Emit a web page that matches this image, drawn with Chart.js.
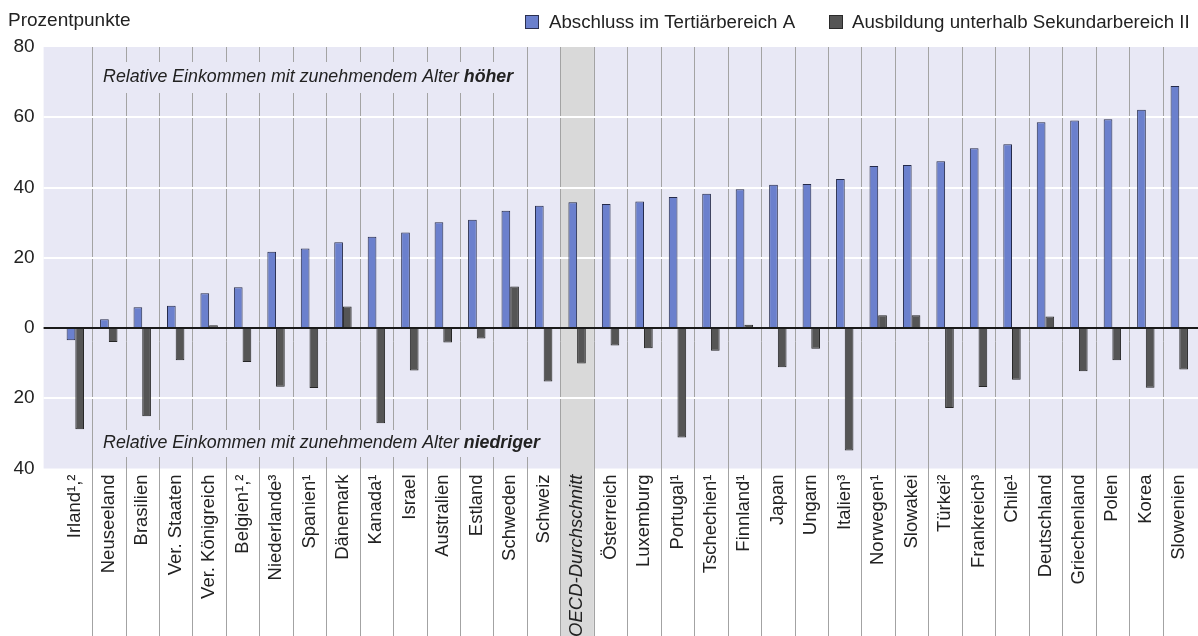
<!DOCTYPE html>
<html>
<head>
<meta charset="utf-8">
<script src="https://cdn.jsdelivr.net/npm/chart.js@4.4.1/dist/chart.umd.min.js"></script>
<style>
  html, body { margin: 0; padding: 0; background: #fff; }
  #grafik { display: block; }
</style>
</head>
<body>
<canvas id="grafik" width="1198" height="636"></canvas>
<script>
// Länder in der Reihenfolge des Originals
const laender = [
  "Irland¹,²", "Neuseeland", "Brasilien", "Ver. Staaten", "Ver. Königreich", "Belgien¹,²",
  "Niederlande³", "Spanien¹", "Dänemark", "Kanada¹", "Israel", "Australien", "Estland",
  "Schweden", "Schweiz", "OECD-Durchschnitt", "Österreich", "Luxemburg", "Portugal¹",
  "Tschechien¹", "Finnland¹", "Japan", "Ungarn", "Italien³", "Norwegen¹", "Slowakei",
  "Türkei²", "Frankreich³", "Chile¹", "Deutschland", "Griechenland", "Polen", "Korea", "Slowenien"
];
const tertiaer = [
  -3.5, 2.5, 5.9, 6.3, 9.9, 11.6, 21.7, 22.6, 24.4, 26.0, 27.2, 30.1, 30.8, 33.4, 34.8,
  35.8, 35.3, 36.0, 37.3, 38.2, 39.5, 40.8, 41.0, 42.4, 46.1, 46.4, 47.5, 51.2, 52.3,
  58.6, 59.1, 59.4, 62.1, 68.9
];
const unterSek = [
  -28.8, -4.0, -25.1, -9.2, 0.8, -9.7, -16.7, -17.1, 6.1, -27.1, -12.1, -4.1, -3.0, 11.8, -15.2,
  -10.1, -5.0, -5.8, -31.2, -6.5, 0.9, -11.2, -5.9, -34.9, 3.6, 3.6, -22.8, -16.8, -14.7,
  3.3, -12.3, -9.2, -17.0, -11.8
];
const yTicks = [80, 60, 40, 20, 0, -20, -40];
const serienNamen = ["Abschluss im Tertiärbereich A", "Ausbildung unterhalb Sekundarbereich II"];
const einheit = "Prozentpunkte";
const hinweisOben = ["Relative Einkommen mit zunehmendem Alter ", "höher"];
const hinweisUnten = ["Relative Einkommen mit zunehmendem Alter ", "niedriger"];

const schrift = "'Liberation Sans', Arial, sans-serif";
const farbeBlau = "#6b80cd";
const farbeGrau = "#555555";
const oecdIndex = laender.indexOf("OECD-Durchschnitt");

function hinweis(ctx, teile, x, y, farbeHg, y0, y1) {
  ctx.font = "italic 17.8px " + schrift;
  const b1 = ctx.measureText(teile[0]).width;
  ctx.font = "italic bold 17.8px " + schrift;
  const b2 = ctx.measureText(teile[1]).width;
  ctx.fillStyle = farbeHg;
  ctx.fillRect(x - 7, y0, b1 + b2 + 14, y1 - y0);
  ctx.fillStyle = "#222";
  ctx.textBaseline = "middle";
  ctx.textAlign = "left";
  ctx.font = "italic 17.8px " + schrift;
  ctx.fillText(teile[0], x, y);
  ctx.font = "italic bold 17.8px " + schrift;
  ctx.fillText(teile[1], x + b1, y);
}

const hintergrund = {
  id: "hintergrund",
  beforeDraw(chart) {
    const { ctx, chartArea: a, scales: { x, y } } = chart;
    const links = a.left - 15, rechts = chart.width;
    const breite = x.getPixelForValue(1) - x.getPixelForValue(0);
    ctx.save();
    ctx.fillStyle = "#e8e8f5";
    ctx.fillRect(links, a.top, rechts - links, a.bottom - a.top);

    // OECD-Spalte grau hinterlegt
    const xm = x.getPixelForValue(oecdIndex);
    ctx.fillStyle = "#d9d9d9";
    ctx.fillRect(xm - breite / 2, a.top, breite, chart.height - a.top);

    // Trennlinien zwischen den Ländern
    ctx.strokeStyle = "#a3a3a3";
    ctx.lineWidth = 1;
    for (let i = 0; i < laender.length - 1; i++) {
      const xs = Math.round(x.getPixelForValue(i) + breite / 2) + 0.5;
      ctx.beginPath();
      ctx.moveTo(xs, a.top);
      ctx.lineTo(xs, chart.height);
      ctx.stroke();
    }

    // weiße Gitterlinien
    ctx.strokeStyle = "#ffffff";
    ctx.lineWidth = 2;
    yTicks.forEach(v => {
      if (v === 0 || v === yTicks[0] || v === yTicks[yTicks.length - 1]) return;
      const yy = Math.round(y.getPixelForValue(v));
      ctx.beginPath();
      ctx.moveTo(links, yy);
      ctx.lineTo(rechts, yy);
      ctx.stroke();
    });

    const xText = x.getPixelForValue(0) + breite / 2 + 11;
    hinweis(ctx, hinweisOben, xText, 77, "#e8e8f5", 62, 93);
    hinweis(ctx, hinweisUnten, xText, 443, "#e8e8f5", 430, 457);

    // Einheit und Legende
    ctx.fillStyle = "#222";
    ctx.textBaseline = "middle";
    ctx.textAlign = "left";
    ctx.font = "19px " + schrift;
    ctx.fillText(einheit, 8, 21);

    ctx.font = "18.7px " + schrift;
    const legPos = [[525, 549], [829, 852]];
    const legFarben = [[farbeBlau, "#2b3050"], [farbeGrau, "#2a2a2a"]];
    serienNamen.forEach((n, i) => {
      ctx.fillStyle = legFarben[i][0];
      ctx.fillRect(legPos[i][0], 15, 14, 14);
      ctx.strokeStyle = legFarben[i][1];
      ctx.lineWidth = 1;
      ctx.strokeRect(legPos[i][0] + 0.5, 15.5, 13, 13);
      ctx.fillStyle = "#222";
      ctx.fillText(n, legPos[i][1], 23);
    });
    ctx.restore();
  },
  afterDatasetsDraw(chart) {
    const { ctx, chartArea: a, scales: { y } } = chart;
    const y0 = Math.round(y.getPixelForValue(0));
    ctx.save();
    ctx.strokeStyle = "#1a1a1a";
    ctx.lineWidth = 2;
    ctx.beginPath();
    ctx.moveTo(a.left - 15, y0);
    ctx.lineTo(chart.width, y0);
    ctx.stroke();
    ctx.restore();
  }
};

const grafik = new Chart(document.getElementById("grafik").getContext("2d"), {
  type: "bar",
  data: {
    labels: laender,
    datasets: [
      {
        label: serienNamen[0],
        data: tertiaer,
        backgroundColor: farbeBlau,
        borderColor: "#242a4a",
        borderWidth: 1,
        borderSkipped: false,
        categoryPercentage: 0.52,
        barPercentage: 1.0,
      },
      {
        label: serienNamen[1],
        data: unterSek,
        backgroundColor: farbeGrau,
        borderColor: "#262626",
        borderWidth: 1,
        borderSkipped: false,
        categoryPercentage: 0.52,
        barPercentage: 1.0,
      },
    ],
  },
  options: {
    responsive: false,
    animation: false,
    devicePixelRatio: 1,
    layout: { padding: { top: 47, right: 2, left: 0, bottom: 0 } },
    plugins: {
      legend: { display: false },
      tooltip: { enabled: false },
    },
    scales: {
      x: {
        grid: { display: false, drawTicks: false },
        border: { display: false },
        ticks: {
          autoSkip: false,
          minRotation: 90,
          maxRotation: 90,
          padding: 6,
          color: "#222",
          font: (c) => ({ size: 18.5, family: schrift, style: c.index === oecdIndex ? "italic" : "normal" }),
        },
        afterFit(s) {
          s.height = 636 - 468.5;
          s.paddingLeft = 0;
          s.paddingRight = 0;
        },
      },
      y: {
        min: -40,
        max: 80,
        grid: { display: false, drawTicks: false },
        border: { display: false },
        ticks: {
          stepSize: 20,
          padding: 24,
          color: "#222",
          font: { size: 19, family: schrift },
          callback: (v) => Math.abs(v),
        },
        afterFit(s) {
          s.width = 58.6;
        },
      },
    },
  },
  plugins: [hintergrund],
});
</script>
</body>
</html>
